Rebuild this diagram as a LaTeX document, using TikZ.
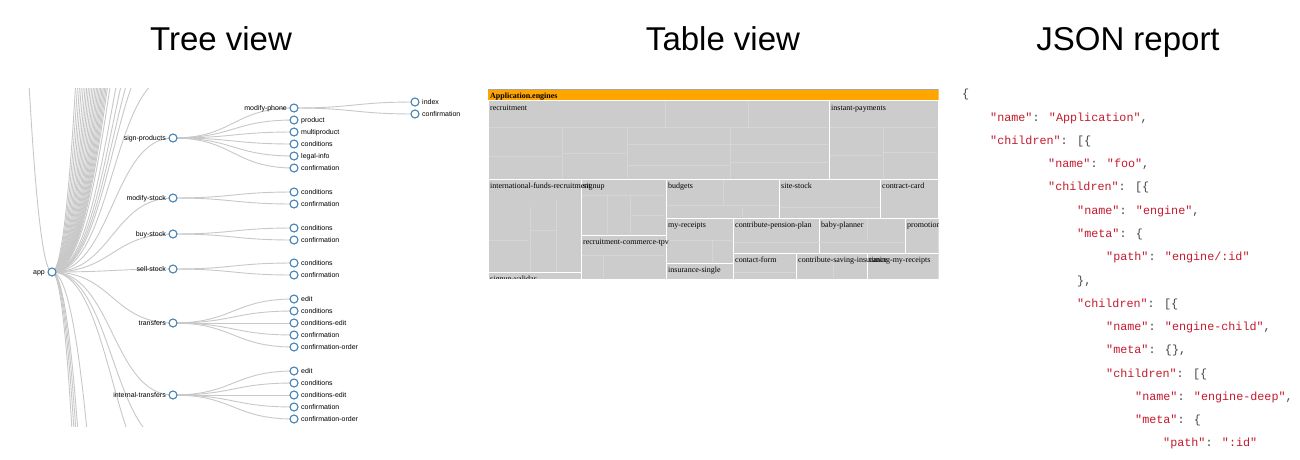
\documentclass[tikz,border=0pt]{standalone}
\usepackage{fontspec}
\setmainfont{Liberation Sans}
\newfontfamily\serifF{Liberation Serif}
\newfontfamily\monoF{Liberation Mono}
\usetikzlibrary{calc}
\definecolor{linkgray}{HTML}{C8C8C8}
\definecolor{steel}{HTML}{4682B4}
\definecolor{cellgray}{HTML}{CCCCCC}
\definecolor{subline}{HTML}{D6D6D6}
\definecolor{hdrorange}{HTML}{FFA500}
\definecolor{jsred}{HTML}{C41A2E}
\definecolor{jsgray}{HTML}{444444}
\newcommand\jr[1]{\textcolor{jsred}{#1}}
\newcommand\jg[1]{\textcolor{jsgray}{#1}}
\begin{document}
\begin{tikzpicture}[x=1pt,y=-1pt,
  link/.style={draw=linkgray, line width=0.9pt},
  circ/.style={circle, draw=steel, line width=1.1pt, fill=white, minimum size=8pt, inner sep=0pt},
  lbl/.style={font=\fontsize{7}{8}\selectfont, inner sep=0pt, text=black},
  title/.style={font=\fontsize{33}{38}\selectfont, anchor=base, inner sep=0pt, text=black},
  cell/.style={fill=cellgray, draw=white, line width=1pt},
  sub/.style={draw=subline, line width=0.7pt},
  tlbl/.style={font=\serifF\fontsize{8}{9}\selectfont, anchor=base west, inner sep=0pt, text=black},
  js/.style={font=\monoF\fontsize{11.75}{14}\selectfont, anchor=base west, inner sep=0pt}
]
\useasboundingbox (0,0) rectangle (1300,459);
\fill[white] (0,0) rectangle (1300,459);

% titles
\node[title] (t1) at (221,50) {Tree view};
\node[title] (t2) at (723,50) {Table view};
\node[title] (t3) at (1128,50) {JSON report};

% ---------------- tree view ----------------
\begin{scope}
\clip (18,88) rectangle (480,426);
\coordinate (app) at (52,272);
\coordinate (root) at (-69,-3000);
\draw[link] (root) .. controls +(60.5,0) and +(-60.5,0) .. (app);
\foreach \y [count=\i] in {-2800,-2300,-1900,-1600,-1350,-1150,-1000,-870,-760,-660,-580,-510,-450,-400,-355,-315,-280,-250,-220,-195,-170,-130,-60,-20,10,35,75}{
  \coordinate (up\i) at (173,\y);
  \draw[link] (app) .. controls +(60.5,0) and +(-60.5,0) .. (up\i);
}
\foreach \y [count=\i] in {2400,2800,3300,4000,1350,490,445}{
  \coordinate (dn\i) at (173,\y);
  \draw[link] (app) .. controls +(60.5,0) and +(-60.5,0) .. (dn\i);
}
\foreach \n/\y in {sp/138,ms/198,bs/234,ss/269,tr/323,it/395}{
  \coordinate (\n) at (173,\y);
  \draw[link] (app) .. controls +(60.5,0) and +(-60.5,0) .. (\n);
}
\foreach \n/\p/\y in {mp/sp/108,spa/sp/120,spb/sp/132,spc/sp/144,spd/sp/156,spe/sp/168,
  msa/ms/192,msb/ms/204,bsa/bs/228,bsb/bs/240,ssa/ss/263,ssb/ss/275,
  tra/tr/299,trb/tr/311,trc/tr/323,trd/tr/335,tre/tr/347,
  ita/it/371,itb/it/383,itc/it/395,itd/it/407,ite/it/419}{
  \coordinate (\n) at (294,\y);
  \draw[link] (\p) .. controls +(60.5,0) and +(-60.5,0) .. (\n);
}
\foreach \n/\y in {mpa/102,mpb/114}{
  \coordinate (\n) at (415,\y);
  \draw[link] (mp) .. controls +(60.5,0) and +(-60.5,0) .. (\n);
}
% circles
\foreach \n in {app,sp,ms,bs,ss,tr,it,mp,spa,spb,spc,spd,spe,msa,msb,bsa,bsb,ssa,ssb,tra,trb,trc,trd,tre,ita,itb,itc,itd,ite,mpa,mpb}{
  \node[circ] (c-\n) at (\n) {};
}
% left labels
\foreach \n/\t in {app/app,sp/sign-products,ms/modify-stock,bs/buy-stock,ss/sell-stock,tr/transfers,it/internal-transfers,mp/modify-phone}{
  \node[lbl, anchor=base east] (l-\n) at ($(\n)+(-7,2.5)$) {\t};
}
% right labels
\foreach \n/\t in {spa/product,spb/multiproduct,spc/conditions,spd/legal-info,spe/confirmation,
  msa/conditions,msb/confirmation,bsa/conditions,bsb/confirmation,ssa/conditions,ssb/confirmation,
  tra/edit,trb/conditions,trc/conditions-edit,trd/confirmation,tre/confirmation-order,
  ita/edit,itb/conditions,itc/conditions-edit,itd/confirmation,ite/confirmation-order,
  mpa/index,mpb/confirmation}{
  \node[lbl, anchor=base west] (l-\n) at ($(\n)+(7,2.5)$) {\t};
}
\end{scope}

% ---------------- table view ----------------
\begin{scope}
\clip (487.5,88.5) rectangle (938.5,278.5);
\draw[gray!70, line width=0.8pt] (487.5,89) -- (938.5,89);
\fill[hdrorange] (487.5,89.5) rectangle (938.5,100);
\foreach \a/\b/\c/\d in {488/100/829/179, 829/100/938/179,
  488/179/581/272, 488/272/581/290, 581/179/666/235, 581/235/666/290,
  666/179/779/218, 779/179/880/218, 880/179/938/218,
  666/218/733/263, 666/263/733/290, 733/218/819/253, 819/218/905/253, 905/218/945/253,
  733/253/796/290, 796/253/867/290, 867/253/945/290}{
  \draw[cell] (\a,\b) rectangle (\c,\d);
}
% faint subdivisions
\draw[sub] (489,127.5) -- (828,127.5);
\draw[sub] (665,101) -- (665,127); \draw[sub] (748,101) -- (748,127);
\draw[sub] (562,128) -- (562,178); \draw[sub] (627,128) -- (627,178); \draw[sub] (730,128) -- (730,178);
\draw[sub] (489,156) -- (561,156); \draw[sub] (563,153) -- (626,153);
\draw[sub] (628,144) -- (828,144); \draw[sub] (628,165) -- (729,165); \draw[sub] (731,162) -- (828,162);
\draw[sub] (830,127.5) -- (937,127.5); \draw[sub] (883,128) -- (883,178);
\draw[sub] (830,155) -- (882,155); \draw[sub] (884,152) -- (937,152);
\draw[sub] (530,207) -- (530,271); \draw[sub] (556,200) -- (556,271);
\draw[sub] (489,240) -- (529,240); \draw[sub] (531,230) -- (555,230);
\draw[sub] (582,195) -- (665,195); \draw[sub] (607,196) -- (607,234); \draw[sub] (630,196) -- (630,234);
\draw[sub] (631,215) -- (665,215);
\draw[sub] (603,255) -- (603,278); \draw[sub] (582,255) -- (665,255);
\draw[sub] (667,205) -- (778,205); \draw[sub] (723,180) -- (723,204);
\draw[sub] (780,207) -- (879,207); \draw[sub] (742,207) -- (742,217);
\draw[sub] (734,242) -- (904,242); \draw[sub] (867,219) -- (867,241);
\draw[sub] (712,240) -- (712,262); \draw[sub] (667,240) -- (732,240);
\draw[sub] (734,272) -- (795,272); \draw[sub] (833,254) -- (833,278);
% labels
\node[tlbl, font=\serifF\bfseries\fontsize{8}{9}\selectfont] (hdr) at (490,98.5) {Application.engines};
\node[tlbl] (k1) at (490,110.5) {recruitment};
\node[tlbl] (k2) at (831,110.5) {instant-payments};
\node[tlbl] (k3) at (490,188.5) {international-funds-recruitment};
\node[tlbl] (k4) at (583,188.5) {signup};
\node[tlbl] (k5) at (668,188.5) {budgets};
\node[tlbl] (k6) at (781,188.5) {site-stock};
\node[tlbl] (k7) at (882,188.5) {contract-card};
\node[tlbl] (k8) at (668,227.5) {my-receipts};
\node[tlbl] (k9) at (735,227.5) {contribute-pension-plan};
\node[tlbl] (k10) at (821,227.5) {baby-planner};
\node[tlbl] (k11) at (907,227.5) {promotions};
\node[tlbl] (k12) at (583,244.5) {recruitment-commerce-tpv};
\node[tlbl] (k13) at (668,272.5) {insurance-single};
\node[tlbl] (k14) at (735,262.5) {contact-form};
\node[tlbl] (k15) at (798,262.5) {contribute-saving-insurance};
\node[tlbl] (k16) at (869,262.5) {timing-my-receipts};
\node[tlbl] (k17) at (490,281.5) {signup-validar};
\end{scope}

% ---------------- JSON report ----------------
\node[js] (j0) at (962,97.8) {\jg{\{}};
\node[js] (j1) at (990,121.1) {\jr{"name"}\jg{: }\jr{"Application"}\jg{,}};
\node[js] (j2) at (990,144.3) {\jr{"children"}\jg{: [\{}};
\node[js] (j3) at (1048,167.6) {\jr{"name"}\jg{: }\jr{"foo"}\jg{,}};
\node[js] (j4) at (1048,190.9) {\jr{"children"}\jg{: [\{}};
\node[js] (j5) at (1077,214.2) {\jr{"name"}\jg{: }\jr{"engine"}\jg{,}};
\node[js] (j6) at (1077,237.4) {\jr{"meta"}\jg{: \{}};
\node[js] (j7) at (1106,260.7) {\jr{"path"}\jg{: }\jr{"engine/:id"}};
\node[js] (j8) at (1077,284.0) {\jg{\},}};
\node[js] (j9) at (1077,307.2) {\jr{"children"}\jg{: [\{}};
\node[js] (j10) at (1106,330.5) {\jr{"name"}\jg{: }\jr{"engine-child"}\jg{,}};
\node[js] (j11) at (1106,353.8) {\jr{"meta"}\jg{: \{\},}};
\node[js] (j12) at (1106,377.0) {\jr{"children"}\jg{: [\{}};
\node[js] (j13) at (1135,400.3) {\jr{"name"}\jg{: }\jr{"engine-deep"}\jg{,}};
\node[js] (j14) at (1135,423.6) {\jr{"meta"}\jg{: \{}};
\node[js] (j15) at (1163,446.9) {\jr{"path"}\jg{: }\jr{":id"}};
\end{tikzpicture}
\end{document}
